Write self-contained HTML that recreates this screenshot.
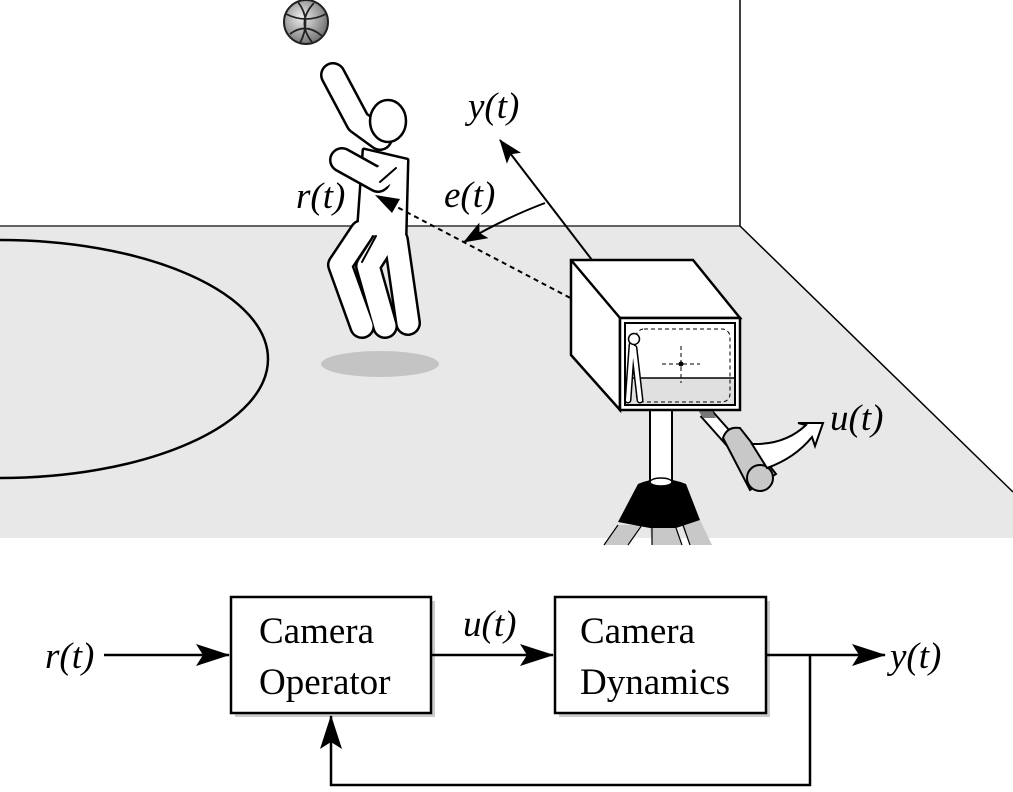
<!DOCTYPE html>
<html><head><style>body{margin:0;background:#fff}svg{display:block}text{font-family:"Liberation Serif",serif}</style></head><body>
<svg width="1013" height="792" viewBox="0 0 1013 792" xmlns="http://www.w3.org/2000/svg">
<defs><radialGradient id="bg" cx="0.4" cy="0.4" r="0.6"><stop offset="0" stop-color="#eee"/><stop offset="1" stop-color="#777"/></radialGradient>
<marker id="ab" markerWidth="34" markerHeight="22" refX="33" refY="11" orient="auto" markerUnits="userSpaceOnUse"><path d="M0,0 L34,11 L0,22 L7,11z" fill="#000"/></marker>
<marker id="am" markerWidth="24" markerHeight="18" refX="23" refY="9" orient="auto" markerUnits="userSpaceOnUse"><path d="M0,0 L24,9 L0,18 L5,9z" fill="#000"/></marker>
</defs>
<polygon points="0,226 740,226 1013,492 1013,538 0,538" fill="#e8e8e8"/>
<line x1="0" y1="226" x2="740" y2="226" stroke="#333" stroke-width="1.5"/>
<line x1="740" y1="0" x2="740" y2="226" stroke="#000" stroke-width="1.5"/>
<line x1="740" y1="226" x2="1013" y2="492" stroke="#000" stroke-width="1.5"/>
<path d="M0,240 A268,119 0 0 1 0,478" fill="none" stroke="#000" stroke-width="2.5"/>
<ellipse cx="380" cy="364" rx="59" ry="13" fill="#c4c4c4"/>
<circle cx="306" cy="22" r="22" fill="url(#bg)" stroke="#222" stroke-width="2"/>
<path d="M286,14 Q306,24 326,14 M290,34 Q306,22 322,36 M298,2 Q312,20 300,43 M314,3 Q296,22 312,42" fill="none" stroke="#222" stroke-width="1.8"/>
<g fill="none" stroke-linecap="round" stroke-linejoin="round">
<g stroke="#000" stroke-width="26">
<path d="M333,75 L358,122 L380,138"/>
<path d="M362,232 L340,265 L362,326"/>
<path d="M386,238 L368,266 L385,326"/>
<path d="M396,240 L408,323"/>
</g>
<polygon points="364,150 407,160 405,238 358,234" fill="#000" stroke="#000" stroke-width="5"/>
<g stroke="#fff" stroke-width="21">
<path d="M333,75 L358,122 L380,138"/>
<path d="M362,232 L340,265 L362,326"/>
<path d="M386,238 L368,266 L385,326"/>
<path d="M396,240 L408,323"/>
</g>
<polygon points="364,150 407,160 405,238 358,234" fill="#fff"/>
<g stroke="#000" stroke-width="26"><path d="M342,160 L378,180"/></g>
<g stroke="#fff" stroke-width="21"><path d="M342,160 L378,180 L394,168"/></g>
<path d="M380,182 L396,168" stroke="#000" stroke-width="2"/>
<path d="M376,236 L362,262" stroke="#000" stroke-width="2"/>
</g>
<ellipse cx="388" cy="121" rx="18" ry="21" fill="#fff" stroke="#000" stroke-width="2.5"/>
<line x1="578" y1="302" x2="395" y2="206" stroke="#000" stroke-width="2" stroke-dasharray="5,4"/>
<path d="M375,195 L400,199 L392,213z" fill="#000"/>
<line x1="592" y1="260" x2="500" y2="140" stroke="#000" stroke-width="2" marker-end="url(#am)"/>
<path d="M545,203 Q505,218 464,242" fill="none" stroke="#000" stroke-width="2" marker-end="url(#am)"/>
<text x="468" y="118" font-size="37" font-style="italic">y(t)</text>
<text x="444" y="207" font-size="37" font-style="italic">e(t)</text>
<text x="296" y="208" font-size="37" font-style="italic">r(t)</text>
<polygon points="618,525 642,525 628,545 604,545" fill="#c8c8c8"/>
<polygon points="650,528 676,528 682,545 652,545" fill="#c8c8c8"/>
<polygon points="680,522 700,520 712,545 690,545" fill="#c8c8c8"/>
<path d="M604,545 L618,525 M628,545 L642,525 M652,545 L652,528 M682,545 L676,528 M690,545 L682,522" stroke="#000" stroke-width="1.2"/>
<path d="M638,484 Q661,474 686,484 L700,520 L676,528 L650,528 L618,522z" fill="#000"/>
<rect x="650" y="410" width="22" height="72" fill="#fff" stroke="#000" stroke-width="2"/>
<ellipse cx="661" cy="482" rx="11" ry="4" fill="#fff" stroke="#000" stroke-width="1.5"/>
<line x1="705" y1="412" x2="737" y2="448" stroke="#000" stroke-width="14"/>
<line x1="705" y1="412" x2="737" y2="448" stroke="#fff" stroke-width="10"/>
<polygon points="698,410 712,410 716,418 703,418" fill="#777"/>
<path d="M723,438 Q727,426 740,428 L776,474 L750,490z" fill="#c8c8c8" stroke="#000" stroke-width="2"/>
<ellipse cx="760" cy="478" rx="13" ry="13" fill="#c8c8c8" stroke="#000" stroke-width="2"/>
<path d="M752,444 Q785,445 806,425 L798,423 L823,423 L815,446 L812,437 Q795,458 767,468z" fill="#fff" stroke="#000" stroke-width="2"/>
<text x="830" y="430" font-size="37" font-style="italic">u(t)</text>
<polygon points="571,260 693,260 740,318 620,318 620,410 571,355" fill="#fff" stroke="#000" stroke-width="2.5"/>
<line x1="571" y1="260" x2="620" y2="318" stroke="#000" stroke-width="2.5"/>
<rect x="620" y="318" width="120" height="92" fill="#fff" stroke="#000" stroke-width="2.5"/>
<rect x="625" y="323" width="110" height="82" fill="#fff" stroke="#000" stroke-width="2"/>
<rect x="626" y="378" width="108" height="26" fill="#e0e0e0"/>
<line x1="626" y1="378" x2="734" y2="378" stroke="#000" stroke-width="1.5"/>
<rect x="636" y="329" width="94" height="73" rx="8" fill="none" stroke="#000" stroke-width="1" stroke-dasharray="4,3"/>
<path d="M662,364 H700 M681,346 V383" stroke="#000" stroke-width="1" stroke-dasharray="4,3"/>
<circle cx="681" cy="364" r="2.5" fill="#000"/>
<path d="M632,345 L630,372 L628,400 M634,348 L640,400" stroke="#000" stroke-width="7" stroke-linecap="round"/>
<path d="M632,345 L630,372 L628,400 M634,348 L640,400" stroke="#fff" stroke-width="4" stroke-linecap="round"/>
<circle cx="634" cy="339" r="5.5" fill="#fff" stroke="#000" stroke-width="1.5"/>
<rect x="235" y="601" width="200" height="116" fill="#999" opacity="0.5"/>
<rect x="559" y="601" width="211" height="116" fill="#999" opacity="0.5"/>
<rect x="231" y="597" width="200" height="116" fill="#fff" stroke="#000" stroke-width="2.5"/>
<rect x="555" y="597" width="211" height="116" fill="#fff" stroke="#000" stroke-width="2.5"/>
<text x="259" y="643" font-size="37">Camera</text>
<text x="259" y="694" font-size="37">Operator</text>
<text x="580" y="643" font-size="37">Camera</text>
<text x="580" y="694" font-size="37">Dynamics</text>
<text x="45" y="668" font-size="37" font-style="italic">r(t)</text>
<text x="463" y="636" font-size="37" font-style="italic">u(t)</text>
<text x="890" y="668" font-size="37" font-style="italic">y(t)</text>
<g stroke="#000" stroke-width="2.5" fill="none">
<line x1="104" y1="655" x2="229" y2="655" marker-end="url(#ab)"/>
<line x1="431" y1="655" x2="553" y2="655" marker-end="url(#ab)"/>
<line x1="766" y1="655" x2="885" y2="655" marker-end="url(#ab)"/>
<polyline points="810,655 810,785 331,785 331,716" marker-end="url(#ab)"/>
</g>
</svg>
</body></html>
